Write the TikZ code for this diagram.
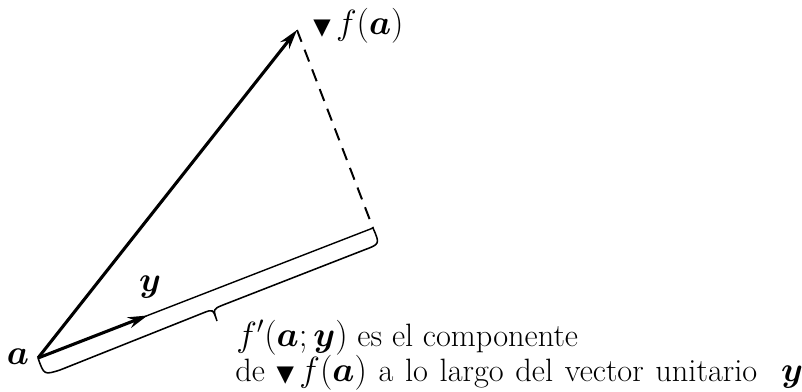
\documentclass[tikz,border=0pt]{standalone}
\usepackage{fontspec}
\newfontfamily\symfont{DejaVu Sans}
\usepackage{bm}
\usetikzlibrary{calc,arrows.meta}
\newcommand{\gradsym}{{\symfont\scalebox{0.7}{▼}}}
\begin{document}
\begin{tikzpicture}[x=0.025cm,y=-0.025cm,
    vec/.style={line width=2.2pt,-{Stealth[length=14pt,width=8pt]}},
    txt/.style={font=\fontsize{23}{27}\selectfont,inner sep=0pt}]
\useasboundingbox (0,0) rectangle (802,391);
\coordinate (a) at (38,358);
\coordinate (g) at (297,30);
\coordinate (p) at (373,228);
\coordinate (y) at ($(a)!0.327!(p)$);
% brace points
\coordinate (b1) at (60,370);
\coordinate (bl) at (203,313);
\coordinate (bm) at (213,309);
\coordinate (bt) at (217,321);
\coordinate (br) at (223,305);
\coordinate (b2) at (364,250);
% vectors
\draw[line width=1pt] (a) -- (p);
\draw[line width=1.4pt,dashed,dash pattern=on 9pt off 6pt] (g) -- (p);
\draw[vec] (a) -- (g);
\draw[vec] (a) -- (y);
% brace under the projection
\draw[line width=1.1pt] (a) .. controls (44,375) .. (b1) -- (bl)
  .. controls (bm) .. (bt) .. controls (bm) .. (br) -- (b2)
  .. controls (380,244) .. (p);
% labels
\node[txt] (la) at (18,357) {$\bm{a}$};
\node[txt] (ly) at (150,287) {$\bm{y}$};
\node[txt,anchor=base west] (lg) at (313,34) {\gradsym\,$f(\bm{a})$};
\node[txt,anchor=base west] (t1) at (236,346) {$f'(\bm{a};\bm{y})$ es el componente};
\node[txt,anchor=base west] (t2) at (235,381) {\spaceskip=8.3pt de \gradsym\,$f(\bm{a})$ a lo largo del vector unitario\hspace{0.6cm}$\bm{y}$};
\end{tikzpicture}
\end{document}
